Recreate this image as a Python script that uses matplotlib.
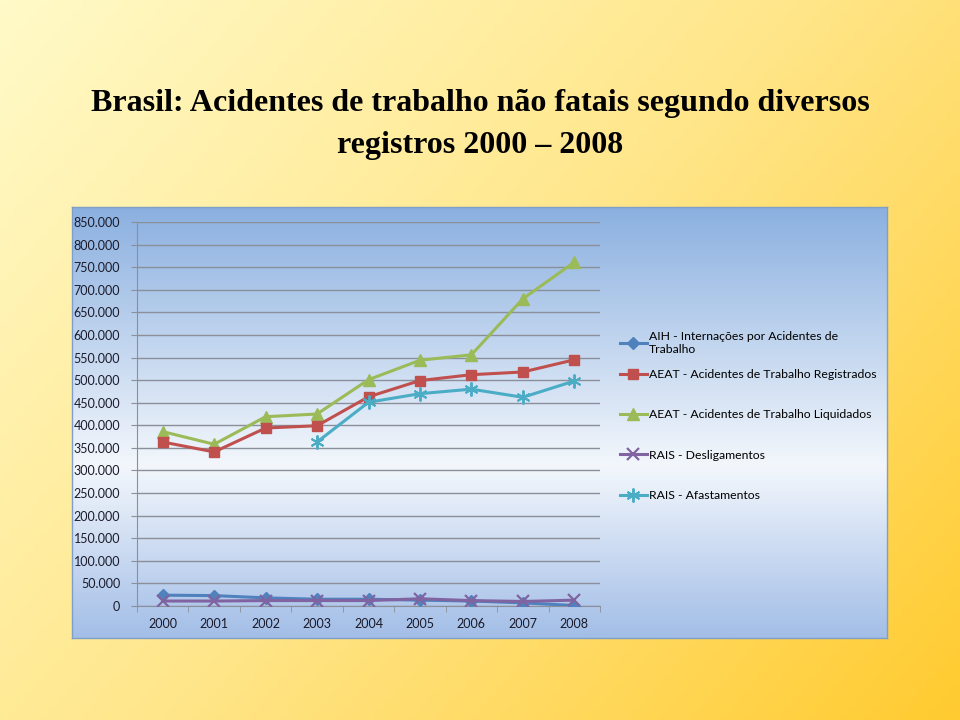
import numpy as np
import matplotlib
matplotlib.use("Agg")
import matplotlib.pyplot as plt
from matplotlib.colors import LinearSegmentedColormap

years = ["2000", "2001", "2002", "2003", "2004", "2005", "2006", "2007", "2008"]

aih = [24000, 23000, 18000, 15000, 15000, 13000, 11000, 7000, 1000]
aeat_reg = [363000, 341000, 394000, 399000, 463000, 499000, 512000, 518000, 545000]
aeat_liq = [386000, 358000, 419000, 425000, 501000, 544000, 556000, 680000, 761000]
rais_desl = [11000, 11000, 12000, 12000, 12000, 16000, 12000, 10000, 13000]
rais_afast = [np.nan, np.nan, np.nan, 363000, 451000, 470000, 480000, 462000, 498000]

labels = ["AIH - Internações por Acidentes de\nTrabalho",
          "AEAT - Acidentes de Trabalho Registrados",
          "AEAT - Acidentes de Trabalho Liquidados",
          "RAIS - Desligamentos",
          "RAIS - Afastamentos"]

yticks = np.arange(0, 850001, 50000)
ytick_labels = ["0"] + [f"{v // 1000}.000" for v in yticks[1:]]

W, H = 960, 720
fig = plt.figure(figsize=(9.6, 7.2), dpi=100)

# slide background: diagonal yellow gradient
bg = fig.add_axes([0, 0, 1, 1], zorder=-10)
gx, gy = np.meshgrid(np.linspace(0, 1, 200), np.linspace(0, 1, 200))
grad = (gx * 0.6 + gy * 0.4)
ycmap = LinearSegmentedColormap.from_list("y", ["#FFFAC8", "#FFE68A", "#FFCB30"])
bg.imshow(grad, cmap=ycmap, aspect="auto", extent=[0, 1, 0, 1], origin="upper")
bg.set_axis_off()

# chart box with blue gradient
x0, y0, x1, y1 = 72, 207, 887, 638
box = fig.add_axes([x0 / W, 1 - y1 / H, (x1 - x0) / W, (y1 - y0) / H], zorder=-5)
bcmap = LinearSegmentedColormap.from_list(
    "b", [(0, "#8BB0E0"), (0.6, "#F3F7FC"), (1, "#A3BEE7")])
box.imshow(np.linspace(0, 1, 256).reshape(-1, 1), cmap=bcmap, aspect="auto",
           extent=[0, 1, 0, 1], origin="upper")
box.set_xticks([])
box.set_yticks([])
for s in box.spines.values():
    s.set_color("#7F9FC8")
    s.set_linewidth(1)

# plot area
px0, py0, px1, py1 = 137, 222, 600, 606
ax = fig.add_axes([px0 / W, 1 - py1 / H, (px1 - px0) / W, (py1 - py0) / H])
ax.patch.set_alpha(0)

lw = 2.2
ax.plot(years, aih, color="#4F81BD", lw=lw, marker="D", ms=6.5, label=labels[0], zorder=5)
ax.plot(years, aeat_reg, color="#C0504D", lw=lw, marker="s", ms=7.5, label=labels[1], zorder=4)
ax.plot(years, aeat_liq, color="#9BBB59", lw=lw, marker="^", ms=8, label=labels[2], zorder=3)
ax.plot(years, rais_desl, color="#8064A2", lw=lw, marker="x", ms=8, mew=1.6, label=labels[3], zorder=6)
ax.plot(years, rais_afast, color="#4BACC6", lw=lw, marker=(6, 2, 0), ms=10, mew=1.4, label=labels[4], zorder=4)

ax.set_xlim(-0.5, len(years) - 0.5)
ax.set_ylim(0, 850000)
ax.set_yticks(yticks)
ax.set_yticklabels(ytick_labels)
ax.yaxis.grid(True, color="#8A8F99", lw=1)
ax.set_axisbelow(True)
ax.set_xticks(np.arange(-0.5, len(years), 1), minor=True)
ax.tick_params(axis="x", which="major", length=0, pad=9)
ax.tick_params(axis="x", which="minor", length=4, color="#8A8F99", direction="out")
ax.tick_params(axis="y", length=4, color="#8A8F99", pad=8)
for lab in ax.get_xticklabels() + ax.get_yticklabels():
    lab.set_fontfamily("Lato")
    lab.set_fontsize(9)
    lab.set_color("#1A1A2A")
for side in ["top", "right"]:
    ax.spines[side].set_visible(False)
for side in ["left", "bottom"]:
    ax.spines[side].set_color("#8A8F99")

# legend: the two-line first entry on its own, the rest evenly spaced below
handles, leg_labels = ax.get_legend_handles_labels()
leg_kw = dict(frameon=False, prop={"family": "Lato", "size": 8.8},
              handlelength=2.2, handletextpad=0.2, borderaxespad=0)
fig.legend(handles[:1], leg_labels[:1], loc="upper left",
           bbox_to_anchor=(615 / W, 1 - 326 / H), **leg_kw)
fig.legend(handles[1:], leg_labels[1:], loc="center left",
           bbox_to_anchor=(615 / W, 1 - 435 / H), labelspacing=2.4, **leg_kw)

fig.text(0.5, 1 - 104 / H, "Brasil: Acidentes de trabalho não fatais segundo diversos",
         ha="center", va="center", fontfamily="Liberation Serif", fontweight="bold",
         fontsize=23, color="black")
fig.text(0.5, 1 - 146 / H, "registros 2000 – 2008",
         ha="center", va="center", fontfamily="Liberation Serif", fontweight="bold",
         fontsize=23, color="black")

fig.savefig("out.png", dpi=100)
